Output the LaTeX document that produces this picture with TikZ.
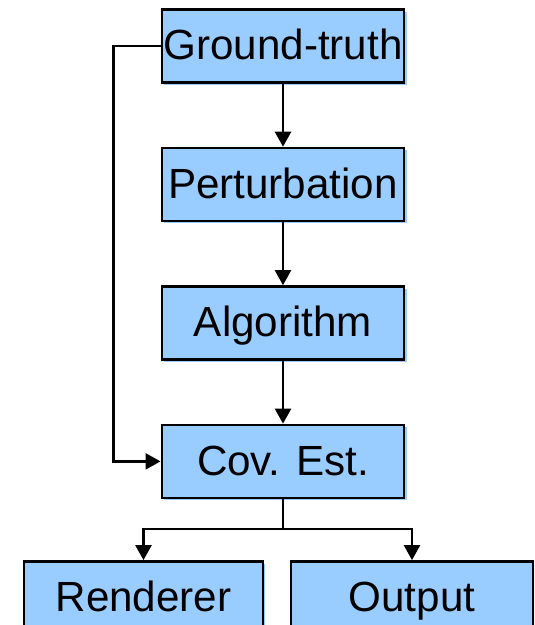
\documentclass[tikz,border=0pt]{standalone}
\usepackage{fontspec}
\setmainfont{Liberation Sans}
\usepackage{tikz}
\usetikzlibrary{arrows.meta,positioning,shadows}
\definecolor{boxblue}{RGB}{153,204,255}

\begin{document}
\begin{tikzpicture}[every node/.style={font=\fontsize{24}{28}\selectfont},
    box/.style={rectangle, fill=boxblue, draw=black, line width=1.4pt,
                minimum width=4.85cm, minimum height=1.46cm, inner sep=0pt,
                text height=16.5pt, text depth=1pt,
                general shadow={fill=boxblue, shadow xshift=0.045cm, shadow yshift=-0.045cm}},
    arr/.style={-{Triangle[length=0.3cm,width=0.32cm]}, line width=1.4pt}]

    \useasboundingbox (-5.66,0.92) rectangle (5.02,-11.58);
    \clip (-5.66,0.92) rectangle (5.02,-11.58);

    %% Main chain
    \node[box] (gt) at (0,0) {Ground-truth};
    \node[box, below=1.26cm of gt] (pert) {Perturbation};
    \node[box, below=1.26cm of pert] (algo) {Algorithm};
    \node[box, below=1.26cm of algo] (cov) {Cov. Est.};

    %% Outputs
    \node[box, below=1.22cm of cov, xshift=-2.79cm, minimum width=4.78cm] (rend) {Renderer};
    \node[box, below=1.22cm of cov, xshift=2.58cm, minimum width=4.85cm] (out) {Output};

    %% Helper points
    \coordinate[left=0.94cm of gt.west] (loop);
    \coordinate[below=0.6cm of cov.south] (split);

    %% Arrows
    \draw[arr] (gt) -- (pert);
    \draw[arr] (pert) -- (algo);
    \draw[arr] (algo) -- (cov);
    \draw[arr] (gt.west) -- (loop) |- (cov.west);
    \draw[line width=1.4pt] (cov.south) -- (split);
    \draw[arr] (split) -| (rend.north);
    \draw[arr] (split) -| (out.north);
  \end{tikzpicture}
\end{document}
